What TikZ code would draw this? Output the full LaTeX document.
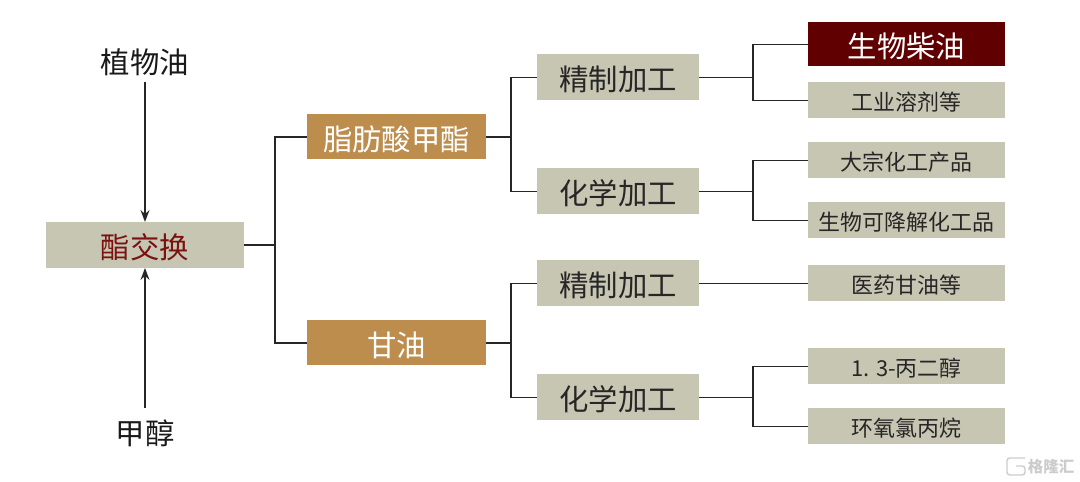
\documentclass[tikz,border=0pt]{standalone}
\usepackage{fontspec}
\setmainfont{Noto Sans CJK SC}
\usepackage{tikz}
\usetikzlibrary{arrows.meta, positioning}
\definecolor{boxgrey}{HTML}{C7C6B2}
\definecolor{boxgold}{HTML}{BD8D4D}
\definecolor{boxred}{HTML}{600000}
\definecolor{txtred}{HTML}{7A1212}
\newcommand{\bigtxt}{\fontsize{20.9}{24}\selectfont}
\newcommand{\smalltxt}{\fontsize{15.6}{19}\selectfont}
\tikzset{
    bigbox/.style={inner sep=0pt, outer sep=0pt, minimum height=1.15cm, text height=0.77cm, text depth=0.1cm, font=\bigtxt},
    smallbox/.style={fill=boxgrey, inner sep=0pt, outer sep=0pt, minimum width=4.925cm, minimum height=0.9cm, text height=0.6cm, text depth=0.1cm, font=\smalltxt, text=black!85},
    rawlabel/.style={inner sep=0pt, outer sep=0pt, font=\bigtxt, text=black!90},
    link/.style={line width=1.2pt, black!85}
}

\begin{document}
\begin{tikzpicture}[>=Stealth]
    \useasboundingbox (0,0) rectangle (27,12.05);
    \node[bigbox, fill=boxgrey, minimum width=4.95cm, text=txtred] (trans) at (3.625,5.925) {酯交换};
    \node[rawlabel, minimum height=1cm, above=3.5cm of trans] (oil) {植物油};
    \node[rawlabel, minimum height=1.25cm, below=3.5cm of trans] (methanol) {甲醇};

    \node[bigbox, fill=boxgold, minimum width=4.475cm, minimum height=1.125cm, text=white, right=1.575cm of trans, yshift=2.7cm] (ester) {脂肪酸甲酯};
    \node[bigbox, fill=boxgold, minimum width=4.475cm, minimum height=1.125cm, text=white, below=4.025cm of ester] (glyc) {甘油};

    \node[bigbox, fill=boxgrey, minimum width=4.05cm, text=black!85, right=1.275cm of ester, yshift=1.4875cm] (refa) {精制加工};
    \node[bigbox, fill=boxgrey, minimum width=4.05cm, text=black!85, below=1.7cm of refa] (chema) {化学加工};
    \node[bigbox, fill=boxgrey, minimum width=4.05cm, text=black!85, right=1.275cm of glyc, yshift=1.4875cm] (refb) {精制加工};
    \node[bigbox, fill=boxgrey, minimum width=4.05cm, text=black!85, below=1.7cm of refb] (chemb) {化学加工};

    \node[bigbox, fill=boxred, minimum width=4.925cm, minimum height=1.1cm, text=white, right=2.725cm of refa, yshift=0.825cm] (biod) {生物柴油};
    \node[smallbox, below=0.4cm of biod] (solv) {工业溶剂等};
    \node[smallbox, below=0.6cm of solv] (bulk) {大宗化工产品};
    \node[smallbox, below=0.6cm of bulk] (degr) {生物可降解化工品};
    \node[smallbox, right=2.725cm of refb] (medi) {医药甘油等};
    \node[smallbox, right=2.725cm of chemb, yshift=0.775cm] (pdo) {1. 3-丙二醇};
    \node[smallbox, below=0.6cm of pdo] (epox) {环氧氯丙烷};

    % feeds
    \draw[link, ->] (oil) -- (trans);
    \draw[link, ->] (methanol) -- (trans);

    % tree
    \foreach \from/\dist/\upper/\lower in {trans/0.775/ester/glyc, ester/0.625/refa/chema, glyc/0.625/refb/chemb,
        refa/1.35/biod/solv, chema/1.35/bulk/degr, chemb/1.35/pdo/epox}{
        \draw[link] (\from.east) -- ++(\dist,0) coordinate (fork) |- (\upper.west);
        \draw[link] (fork) |- (\lower.west);
    }
    \draw[link] (refb) -- (medi);

    % corner mark
    \draw[black!20, line width=1pt, rounded corners=2pt] (25.625,0.6) -- (25.175,0.6) -- (25.175,0.175) -- (25.625,0.175) -- (25.625,0.4) -- (25.4,0.4);
    \node[inner sep=0pt, font=\fontsize{11}{13}\selectfont\bfseries, text=black!20] (mark) at (26.275,0.375) {格隆汇};
\end{tikzpicture}
\end{document}
